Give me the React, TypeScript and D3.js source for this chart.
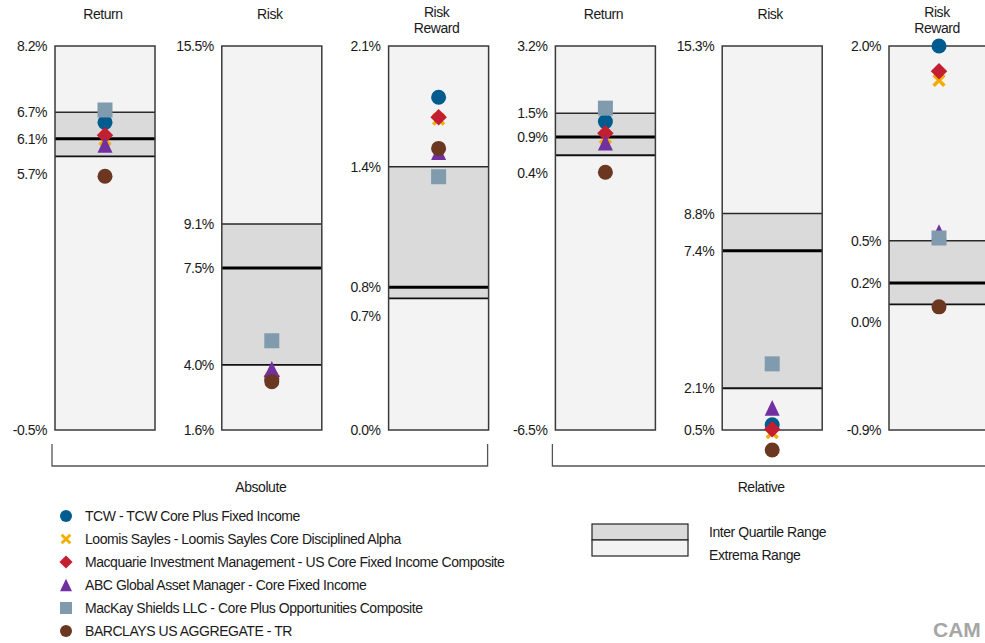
import React from "react";
import * as d3 from "d3";

// ---------- data ----------
const panelTitles = [["Return"], ["Risk"], ["Risk", "Reward"], ["Return"], ["Risk"], ["Risk", "Reward"]];
const axisMax = [8.2, 15.5, 2.1, 3.2, 15.3, 2.0];
const axisMin = [-0.5, 1.6, 0.0, -6.5, 0.5, -0.9];
const upperQuartile = [6.7, 9.06, 1.44, 1.5, 8.84, 0.53];
const medianValues = [6.1, 7.46, 0.78, 0.9, 7.41, 0.21];
const lowerQuartile = [5.7, 3.96, 0.72, 0.44, 2.11, 0.049];

const groupLabels = ["Absolute", "Relative"];

const seriesNames = [
  "TCW - TCW Core Plus Fixed Income",
  "Loomis Sayles - Loomis Sayles Core Disciplined Alpha",
  "Macquarie Investment Management - US Core Fixed Income Composite",
  "ABC Global Asset Manager - Core Fixed Income",
  "MacKay Shields LLC - Core Plus Opportunities Composite",
  "BARCLAYS US AGGREGATE - TR",
];
const seriesShapes = ["circle", "cross", "diamond", "triangle", "square", "circle"];
const seriesColors = ["#005b8f", "#f2ad00", "#c41f30", "#7030a0", "#7f9bad", "#6b3720"];

const tcw = [6.47, 3.45, 1.82, 1.29, 0.7, 2.0];
const loomis = [6.08, 3.5, 1.7, 0.88, 0.4, 1.74];
const macquarie = [6.18, 3.55, 1.71, 0.995, 0.53, 1.81];
const abc = [5.96, 3.81, 1.52, 0.76, 1.35, 0.595];
const mackay = [6.75, 4.83, 1.385, 1.63, 3.05, 0.55];
const barclays = [5.25, 3.35, 1.54, 0.01, -0.27, 0.03];
const seriesValues = [tcw, loomis, macquarie, abc, mackay, barclays];

const rangeLegend = ["Inter Quartile Range", "Extrema Range"];
const watermark = "CAM";

// ---------- layout ----------
const W = 985;
const H = 643;
const FONT = "'Liberation Sans', Arial, sans-serif";
const LS = "-0.45px";
const panelTop = 46;
const panelBottom = 430;
const panelW = 100;
const locale = d3.formatLocale({
  decimal: ".",
  thousands: ",",
  grouping: [3],
  currency: ["$", ""],
  minus: "-",
});
const fmt = locale.format(".1f");

const xPanel = d3.scaleLinear().domain([0, 5]).range([55, 889]);

function markerPath(kind: string, s: number): string {
  switch (kind) {
    case "circle":
      return d3.symbol(d3.symbolCircle, Math.PI * s * s)() as string;
    case "square":
      return d3.symbol(d3.symbolSquare, 4 * s * s)() as string;
    case "diamond":
      return `M0,${-s * 1.1}L${s * 1.1},0L0,${s * 1.1}L${-s * 1.1},0Z`;
    case "triangle":
      return `M0,${-s * 1.05}L${s},${s * 1.05}L${-s},${s * 1.05}Z`;
    case "cross": {
      const a = s * 0.72;
      return `M${-a},${-a}L${a},${a}M${a},${-a}L${-a},${a}`;
    }
  }
  return "";
}

function Marker({ kind, color, x, y, s }: { kind: string; color: string; x: number; y: number; s: number }) {
  const d = markerPath(kind, s);
  if (kind === "cross") {
    return <path d={d} transform={`translate(${x},${y})`} fill="none" stroke={color} strokeWidth={s * 0.47} />;
  }
  return <path d={d} transform={`translate(${x},${y})`} fill={color} />;
}

function Panel({ i }: { i: number }) {
  const x0 = xPanel(i);
  const cx = x0 + panelW / 2;
  const y = d3.scaleLinear().domain([axisMin[i], axisMax[i]]).range([panelBottom, panelTop]);
  const tickVals = [axisMax[i], upperQuartile[i], medianValues[i], lowerQuartile[i], axisMin[i]];
  const labelYs: number[] = [];
  tickVals.forEach((v, k) => {
    let ly = y(v);
    if (k > 0 && ly - labelYs[k - 1] < 22) ly = ly + 18;
    labelYs.push(ly);
  });
  const title = panelTitles[i];
  return (
    <g>
      {title.map((t, k) => (
        <text
          key={k}
          x={cx - 2}
          y={title.length === 1 ? 19 : 17 + k * 16}
          textAnchor="middle"
          fontSize={14}
          letterSpacing={LS}
          fill="#1a1a1a"
        >
          {t}
        </text>
      ))}
      <rect x={x0} y={panelTop} width={panelW} height={panelBottom - panelTop} fill="#f3f3f3" />
      <rect
        x={x0}
        y={y(upperQuartile[i])}
        width={panelW}
        height={y(lowerQuartile[i]) - y(upperQuartile[i])}
        fill="#dadada"
      />
      <line x1={x0} x2={x0 + panelW} y1={y(upperQuartile[i])} y2={y(upperQuartile[i])} stroke="#2a2a2a" strokeWidth={1.5} />
      <line x1={x0} x2={x0 + panelW} y1={y(lowerQuartile[i])} y2={y(lowerQuartile[i])} stroke="#111" strokeWidth={1.8} />
      <line x1={x0} x2={x0 + panelW} y1={y(medianValues[i])} y2={y(medianValues[i])} stroke="#000" strokeWidth={3} />
      <rect
        x={x0}
        y={panelTop}
        width={panelW}
        height={panelBottom - panelTop}
        fill="none"
        stroke="#3a3a3a"
        strokeWidth={1.5}
      />
      {tickVals.map((v, k) => (
        <text
          key={k}
          x={x0 - 8}
          y={labelYs[k]}
          dy="0.35em"
          textAnchor="end"
          fontSize={14}
          letterSpacing={LS}
          fill="#1a1a1a"
        >
          {fmt(v)}%
        </text>
      ))}
      {seriesValues.map((vals, s) => (
        <Marker key={s} kind={seriesShapes[s]} color={seriesColors[s]} x={cx} y={y(vals[i])} s={7.5} />
      ))}
    </g>
  );
}

export default function App() {
  const groups = groupLabels.map((g, k) => {
    const left = xPanel(k * 3) - 3;
    const right = xPanel(k * 3 + 2) + panelW - 1;
    return { g, left, right };
  });
  return (
    <svg
      width={W}
      height={H}
      viewBox={`0 0 ${W} ${H}`}
      style={{ position: "absolute", left: 0, top: 0, background: "#fff" }}
      fontFamily={FONT}
    >
      <rect width={W} height={H} fill="#fff" />
      {d3.range(6).map((i) => (
        <Panel key={i} i={i} />
      ))}
      {groups.map(({ g, left, right }) => (
        <g key={g}>
          <path d={`M${left},444V466H${right}V444`} fill="none" stroke="#555" strokeWidth={1.3} />
          <text x={(left + right) / 2 - 9} y={492} textAnchor="middle" fontSize={14} letterSpacing={LS} fill="#1a1a1a">
            {g}
          </text>
        </g>
      ))}
      {seriesNames.map((name, s) => (
        <g key={s}>
          <Marker kind={seriesShapes[s]} color={seriesColors[s]} x={66} y={516 + s * 23} s={6} />
          <text x={85} y={516 + s * 23} dy="0.35em" fontSize={14} letterSpacing={LS} fill="#1a1a1a">
            {name}
          </text>
        </g>
      ))}
      <rect x={592} y={524} width={96} height={16} fill="#dadada" stroke="#222" strokeWidth={1.2} />
      <rect x={592} y={540} width={96} height={16} fill="#f3f3f3" stroke="#222" strokeWidth={1.2} />
      {rangeLegend.map((t, k) => (
        <text key={t} x={709} y={532 + k * 23} dy="0.35em" fontSize={14} letterSpacing={LS} fill="#1a1a1a">
          {t}
        </text>
      ))}
      <text x={933} y={637} fontSize={21} fontWeight="bold" fill="#a6a6a6">
        {watermark}
      </text>
    </svg>
  );
}
